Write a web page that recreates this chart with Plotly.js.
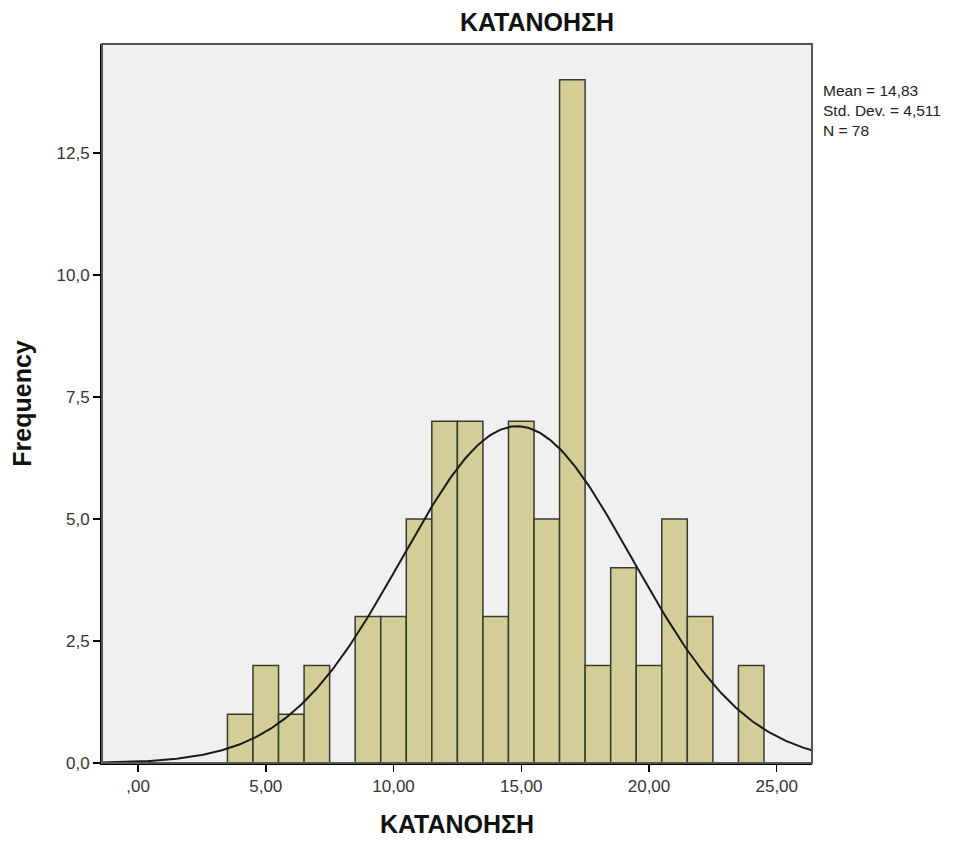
<!DOCTYPE html>
<html>
<head>
<meta charset="utf-8">
<script src="https://cdn.plot.ly/plotly-3.0.1.min.js"></script>
<style>html,body{margin:0;padding:0;background:#fff;}#chart{width:971px;height:841px;}</style>
</head>
<body>
<div id="chart"></div>
<script>
// Histogram bins (bin centers, width 1)
const binCenters = [4,5,6,7,8,9,10,11,12,13,14,15,16,17,18,19,20,21,22,23,24];
const frequencies = [1,2,1,2,0,3,3,5,7,7,3,7,5,14,2,4,2,5,3,0,2];
// Stated summary statistics
const statMean = 14.83;
const statSD = 4.511;
const statN = 78;
// Tick labels
const xTickVals = [0,5,10,15,20,25];
const xTickText = [",00","5,00","10,00","15,00","20,00","25,00"];
const yTickVals = [0,2.5,5,7.5,10,12.5];
const yTickText = ["0,0","2,5","5,0","7,5","10,0","12,5"];

const xRange = [-1.41, 26.38];
const yRange = [0, 14.73];

// Normal curve from the stated mean / SD / N (bin width 1)
const curveX = [], curveY = [];
for (let i = 0; i <= 400; i++) {
  const x = xRange[0] + (xRange[1] - xRange[0]) * i / 400;
  curveX.push(x);
  curveY.push(statN * 1 / (statSD * Math.sqrt(2 * Math.PI)) * Math.exp(-0.5 * Math.pow((x - statMean) / statSD, 2)));
}

const traces = [
  {
    type: 'bar', x: binCenters, y: frequencies, width: 1,
    marker: {color: '#d3ce97', line: {color: '#3a3a2c', width: 1.5}},
    hoverinfo: 'x+y'
  },
  {
    type: 'scatter', mode: 'lines', x: curveX, y: curveY,
    line: {color: '#1a1a1a', width: 2}, hoverinfo: 'skip'
  }
];

const layout = {
  width: 971, height: 841,
  margin: {l: 102, r: 159, t: 44, b: 78},
  paper_bgcolor: '#ffffff', plot_bgcolor: '#f0f0f0',
  showlegend: false,
  bargap: 0,
  font: {family: 'Liberation Sans, Arial, sans-serif', color: '#222'},
  xaxis: {
    range: xRange, tickvals: xTickVals, ticktext: xTickText,
    ticks: 'outside', ticklen: 7, tickwidth: 1.5, tickcolor: '#000',
    showgrid: false, zeroline: false, showline: true, linecolor: '#000', linewidth: 2,
    tickfont: {size: 17, color: '#333'},
    title: {text: 'ΚΑΤΑΝΟΗΣΗ', font: {size: 25, color: '#111', weight: 'bold'}, standoff: 20}
  },
  yaxis: {
    range: yRange, tickvals: yTickVals, ticktext: yTickText,
    ticks: 'outside', ticklen: 7, tickwidth: 1.5, tickcolor: '#000',
    showgrid: false, zeroline: false, showline: true, linecolor: '#000', linewidth: 2,
    tickfont: {size: 17, color: '#333'},
    title: {text: 'Frequency', font: {size: 25, color: '#111', weight: 'bold'}, standoff: 18}
  },
  shapes: [
    {type: 'rect', xref: 'paper', yref: 'paper', x0: 0, x1: 1, y0: 0, y1: 1,
     line: {color: '#555', width: 2}, fillcolor: 'rgba(0,0,0,0)', layer: 'above'}
  ],
  annotations: [
    {xref: 'paper', yref: 'paper', x: 0.613, y: 1, yshift: 6, xanchor: 'center', yanchor: 'bottom',
     text: '<b>ΚΑΤΑΝΟΗΣΗ</b>', showarrow: false, font: {size: 25, color: '#111'}},
    {xref: 'paper', yref: 'paper', x: 1, xshift: 9, y: 0.95, xanchor: 'left', yanchor: 'top', align: 'left',
     text: 'Mean = 14,83<br>Std. Dev. = 4,511<br>N = 78', showarrow: false,
     font: {size: 15.5, color: '#222'}}
  ]
};

Plotly.newPlot('chart', traces, layout, {displayModeBar: false, staticPlot: true});
</script>
</body>
</html>
